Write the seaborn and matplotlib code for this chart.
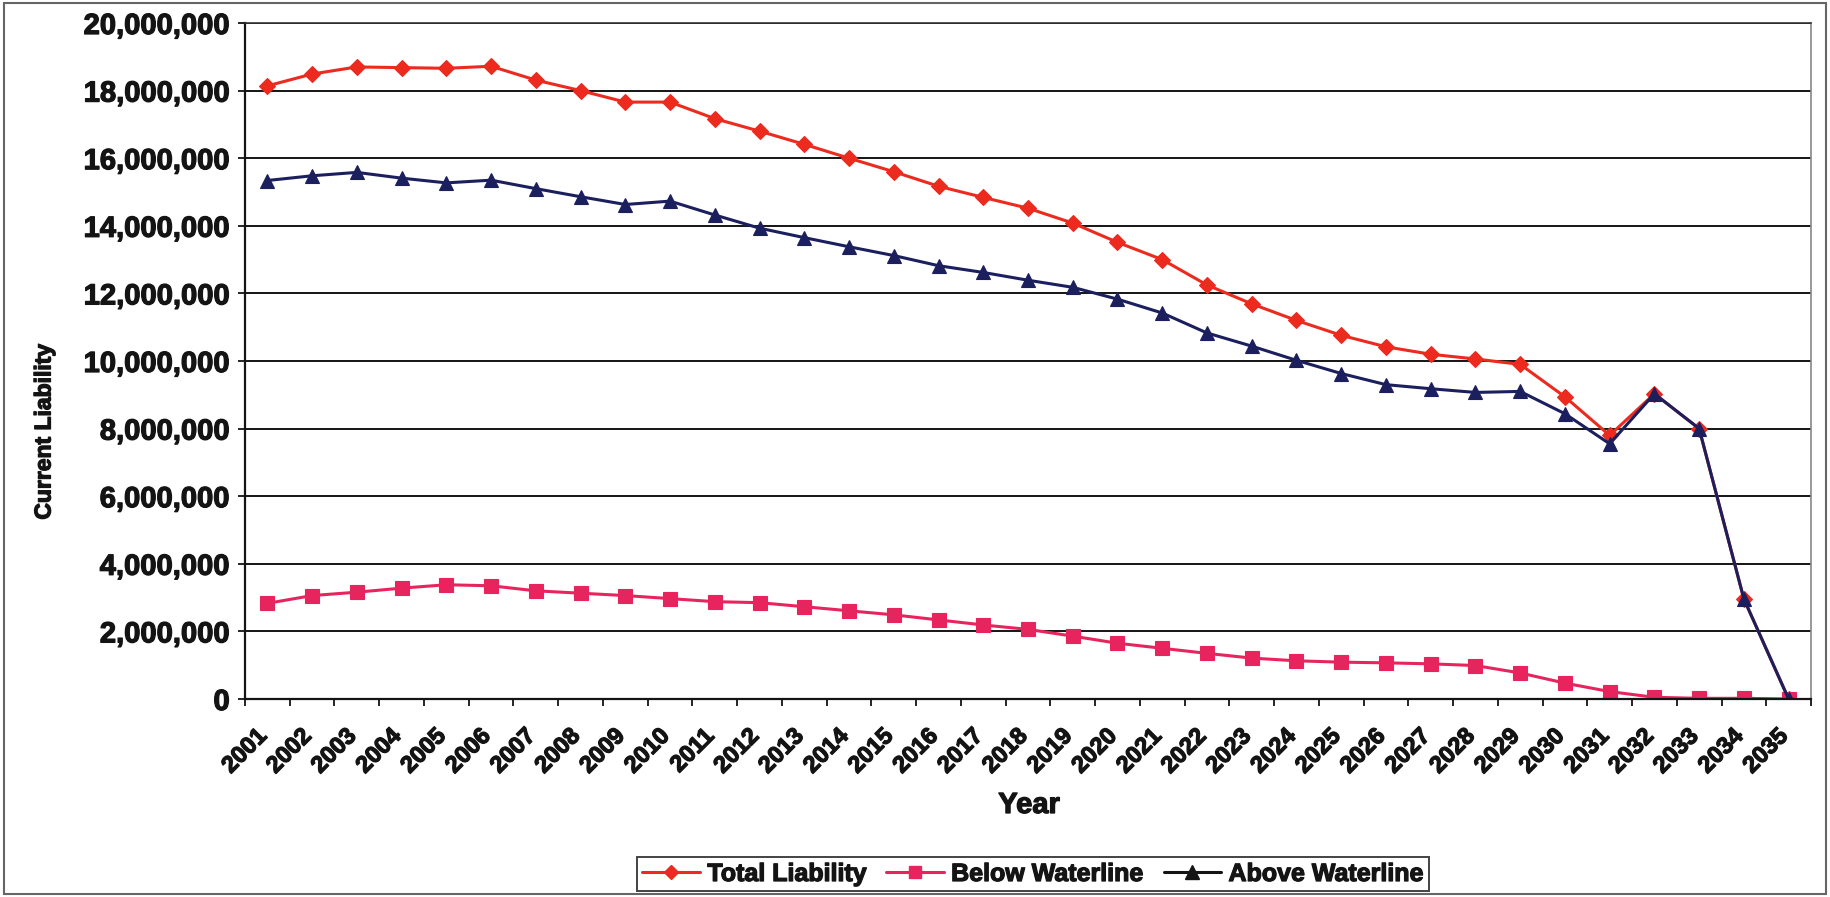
import matplotlib
matplotlib.use("Agg")
import matplotlib.pyplot as plt
import matplotlib.transforms as mtransforms
import matplotlib.patheffects as pe
from matplotlib.lines import Line2D
from matplotlib.patches import Rectangle
import numpy as np
import pandas as pd
import seaborn as sns

# Liability projection by year (values in dollars)
years = list(range(2001, 2036))
total_liability = [
    18140000, 18490000, 18700000, 18680000, 18660000, 18720000, 18310000, 18000000, 17660000, 17660000,
    17170000, 16800000, 16410000, 16000000, 15600000, 15170000, 14840000, 14520000, 14080000, 13510000,
    13000000, 12250000, 11690000, 11200000, 10760000, 10420000, 10200000, 10060000, 9900000, 8940000,
    7800000, 9030000, 8000000, 2960000, 0,
]
below_waterline = [
    2830000, 3060000, 3160000, 3280000, 3380000, 3350000, 3200000, 3130000, 3060000, 2970000,
    2880000, 2850000, 2730000, 2610000, 2490000, 2340000, 2190000, 2060000, 1860000, 1650000,
    1500000, 1350000, 1210000, 1130000, 1090000, 1070000, 1040000, 990000, 770000, 470000,
    220000, 50000, 20000, 20000, 0,
]
above_waterline = [
    15340000, 15480000, 15580000, 15410000, 15270000, 15350000, 15100000, 14860000, 14630000, 14730000,
    14320000, 13930000, 13650000, 13380000, 13120000, 12820000, 12620000, 12390000, 12180000, 11830000,
    11420000, 10830000, 10440000, 10020000, 9630000, 9300000, 9180000, 9070000, 9100000, 8440000,
    7550000, 9030000, 8000000, 2960000, 0,
]
series_names = ["Total Liability", "Below Waterline", "Above Waterline"]
y_ticks = list(range(0, 20000001, 2000000))

colors = {"Total Liability": "#EC2A1E", "Below Waterline": "#E8245E", "Above Waterline": "#1C1F5E"}
markers = {"Total Liability": "D", "Below Waterline": "s", "Above Waterline": "^"}
sizes = {"Total Liability": 8.5, "Below Waterline": 9.5, "Above Waterline": 10.5}

pos = np.arange(len(years))
df = pd.concat([
    pd.DataFrame({"pos": pos, "value": vals, "series": name})
    for name, vals in zip(series_names, [total_liability, below_waterline, above_waterline])
])

sns.set_theme(style="white")
plt.rcParams["font.family"] = ["Liberation Sans", "DejaVu Sans"]

INK = "#141414"
heavy = [pe.withStroke(linewidth=0.9, foreground=INK)]

fig = plt.figure(figsize=(18.3, 8.97), dpi=100)
fig.patch.set_facecolor("white")
ax = fig.add_axes([245 / 1830, 1 - 699 / 897, (1811 - 245) / 1830, (699 - 23) / 897])

for name in series_names:
    sub = df[df["series"] == name]
    sns.lineplot(data=sub, x="pos", y="value", ax=ax, color=colors[name],
                 marker=markers[name], markersize=sizes[name], linewidth=2.2,
                 markeredgecolor=colors[name], markeredgewidth=0.8,
                 legend=False, sort=False)

ax.set_xlim(-0.5, len(years) - 0.5)
ax.set_ylim(0, 20000000)

# y axis: comma-formatted values with black gridlines
ax.set_yticks(y_ticks)
ax.set_yticklabels([f"{v:,}" for v in y_ticks], fontsize=21, fontweight="bold", color=INK)
ax.yaxis.grid(True, color=INK, linewidth=1.4)
ax.xaxis.grid(False)
ax.tick_params(axis="y", direction="out", length=5, width=1.3, color=INK, pad=6, left=True)
for lab in ax.get_yticklabels():
    lab.set_path_effects(heavy)

# x axis: labels centred on categories, tick marks between them
ax.set_xticks(pos)
ax.set_xticklabels([str(y) for y in years], fontsize=17, fontweight="bold", color=INK,
                   rotation=45, ha="right", va="center", rotation_mode="anchor")
ax.set_xticks(np.arange(-0.5, len(years)), minor=True)
ax.tick_params(axis="x", which="major", length=0, pad=24)
ax.tick_params(axis="x", which="minor", direction="out", length=5, width=1.3, color=INK, bottom=True)
shift = mtransforms.ScaledTranslation(-4 / 100, 0, fig.dpi_scale_trans)
for lab in ax.get_xticklabels():
    lab.set_transform(lab.get_transform() + shift)
    lab.set_path_effects(heavy)

ax.set_xlabel("")
ax.set_ylabel("")
for side in ["left", "bottom"]:
    ax.spines[side].set_color(INK)
    ax.spines[side].set_linewidth(1.6)
ax.spines["top"].set_color("#333333")
ax.spines["top"].set_linewidth(1.2)
ax.spines["right"].set_color("#888888")
ax.spines["right"].set_linewidth(1.2)

fig.text(44 / 1830, 1 - 432 / 897, "Current Liability", rotation=90, ha="center", va="center",
         fontsize=16.5, fontweight="bold", color=INK, path_effects=heavy)
fig.text(1029 / 1830, 1 - 805 / 897, "Year", ha="center", va="center",
         fontsize=21, fontweight="bold", color=INK, path_effects=heavy)

handles = [Line2D([0], [0], color=colors[n], marker=markers[n], markersize=sizes[n] - 1,
                  markeredgecolor=colors[n], markerfacecolor=colors[n],
                  linewidth=2.2) for n in series_names]
handles[2].set_color(INK)
handles[2].set_markerfacecolor(INK)
handles[2].set_markeredgecolor(INK)
leg = fig.legend(handles, series_names, loc="center", bbox_to_anchor=(1033 / 1830, 1 - 874 / 897),
                 ncol=3, frameon=True, fancybox=False, handlelength=2.3,
                 handletextpad=0.3, columnspacing=0.8, borderpad=0.2,
                 prop={"weight": "bold", "size": 18})
leg.get_frame().set_edgecolor(INK)
leg.get_frame().set_linewidth(1.4)
for t in leg.get_texts():
    t.set_color(INK)
    t.set_path_effects(heavy)

fig.add_artist(Rectangle((0.002, 0.003), 0.996, 0.994, transform=fig.transFigure,
                         fill=False, edgecolor="#666666", linewidth=1.5))

fig.savefig("out.png", dpi=100, facecolor="white")
